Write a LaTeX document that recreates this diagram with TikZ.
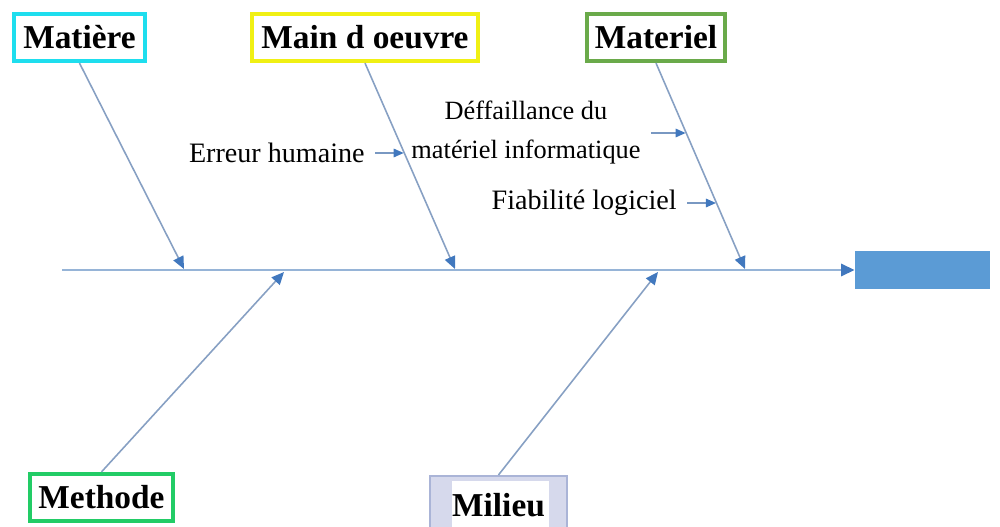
\documentclass[tikz,border=0pt]{standalone}
\usepackage{fontspec}
\setmainfont{Liberation Serif}
\usetikzlibrary{arrows.meta,calc}
\definecolor{bonecol}{RGB}{135,160,195}
\definecolor{spinecol}{RGB}{150,180,215}
\definecolor{tipcol}{RGB}{65,120,190}
\definecolor{effectcol}{RGB}{91,155,213}
\definecolor{cyanb}{RGB}{30,222,238}
\definecolor{yellowb}{RGB}{240,240,20}
\definecolor{greenb}{RGB}{106,170,74}
\definecolor{brightgreenb}{RGB}{34,204,102}
\definecolor{lavborder}{RGB}{170,180,215}
\definecolor{lavfill}{RGB}{214,217,236}
\begin{document}
\begin{tikzpicture}[x=0.02cm,y=-0.02cm,
  catbox/.style={draw, line width=2.4pt, fill=white, inner sep=0pt,
    minimum height=0.94cm, font=\fontsize{19}{22}\selectfont\bfseries},
  cause/.style={inner sep=0pt, font=\fontsize{16}{22}\selectfont, align=center},
  bone/.style={draw=bonecol, line width=0.9pt,
    -{Triangle[length=0.25cm,width=0.22cm,color=tipcol,fill=tipcol]}},
  spine/.style={draw=spinecol, line width=1.6pt,
    -{Triangle[length=0.27cm,width=0.24cm,color=tipcol,fill=tipcol]}},
  twig/.style={draw=bonecol!80!tipcol, line width=0.8pt,
    -{Triangle[length=0.2cm,width=0.17cm,color=tipcol,fill=tipcol]}}]
\useasboundingbox (0,0) rectangle (1000,527);

% effect box and spine
\node[fill=effectcol, minimum width=2.7cm, minimum height=0.76cm, inner sep=0pt]
  (effect) at (922.5,270) {};
\coordinate (tail) at (62,270);
\draw[spine] (tail) -- (effect.west);

% category boxes
\node[catbox, draw=cyanb, minimum width=2.62cm] (matiere) at (79.5,37.5) {Matière};
\node[catbox, draw=yellowb, minimum width=4.52cm] (mainoeuvre) at (365,37.5) {Main d oeuvre};
\node[catbox, draw=greenb, minimum width=2.76cm] (materiel) at (656,37.5) {Materiel};
\node[catbox, draw=brightgreenb, minimum width=2.86cm] (methode) at (101.5,497.5) {Methode};
\node[catbox, draw=lavborder, line width=1.2pt, fill=lavfill,
  minimum width=2.74cm, minimum height=1.16cm,
  path picture={\fill[white]
    ($(path picture bounding box.north west)+(22,5)$) rectangle
    ($(path picture bounding box.south east)+(-18,0)$);}]
  (milieu) at (498.5,505) {Milieu};

% bone tips on the spine
\coordinate (tipmatiere) at (184,269);
\coordinate (tipmain) at (455,269);
\coordinate (tipmateriel) at (745,269);
\coordinate (tipmethode) at (284,272);
\coordinate (tipmilieu) at (658,272);

\draw[bone] (matiere.south) -- (tipmatiere);
\draw[bone] (mainoeuvre.south) -- (tipmain);
\draw[bone] (materiel.south) -- (tipmateriel);
\draw[bone] (methode.north) -- (tipmethode);
\draw[bone] (milieu.north) -- (tipmilieu);

% causes
\node[cause, anchor=east] (erreur) at (365,153) {Erreur humaine};
\node[cause, font=\fontsize{15}{22.2}\selectfont] (defaillance) at (526,133)
  {Déffaillance du\\matériel informatique};
\node[cause, anchor=east] (fiabilite) at (677,203) {Fiabilité logiciel};

\coordinate (onmain) at ($(mainoeuvre.south)!0.43!(tipmain)$);
\coordinate (onmat1) at ($(materiel.south)!0.333!(tipmateriel)$);
\coordinate (onmat2) at ($(materiel.south)!0.674!(tipmateriel)$);

\coordinate (s1) at ([xshift=0.2cm]erreur.east);
\coordinate (s2) at ([xshift=0.2cm]defaillance.east);
\coordinate (s3) at ([xshift=0.2cm]fiabilite.east);
\draw[twig] (s1) -- (s1 -| onmain);
\draw[twig] (s2) -- (s2 -| onmat1);
\draw[twig] (s3) -- (s3 -| onmat2);
\end{tikzpicture}
\end{document}
